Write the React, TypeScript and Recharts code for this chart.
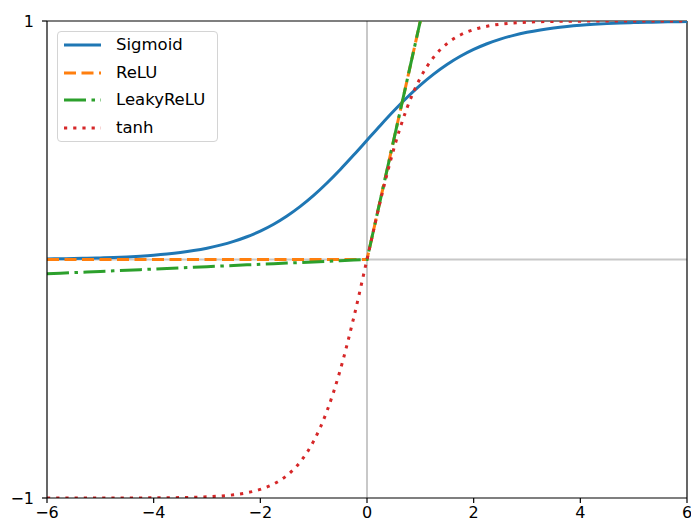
import React from "react";
import { LineChart, Line, XAxis, YAxis, ReferenceLine } from "recharts";

const xs = [
  -6, -5.75, -5.5, -5.25, -5, -4.75, -4.5, -4.25, -4, -3.75, -3.5, -3.25, -3, -2.75, -2.5, -2.25,
  -2, -1.75, -1.5, -1.25, -1, -0.75, -0.5, -0.25, 0, 0.25, 0.5, 0.75, 1, 1.25, 1.5, 1.75, 2, 2.25,
  2.5, 2.75, 3, 3.25, 3.5, 3.75, 4, 4.25, 4.5, 4.75, 5, 5.25, 5.5, 5.75, 6,
];

const sigmoid = [
  0.0025, 0.0032, 0.0041, 0.0052, 0.0067, 0.0086, 0.011, 0.0141, 0.018, 0.023, 0.0293, 0.0373,
  0.0474, 0.0601, 0.0759, 0.0953, 0.1192, 0.148, 0.1824, 0.2227, 0.2689, 0.3208, 0.3775, 0.4378,
  0.5, 0.5622, 0.6225, 0.6792, 0.7311, 0.7773, 0.8176, 0.852, 0.8808, 0.9047, 0.9241, 0.9399,
  0.9526, 0.9627, 0.9707, 0.977, 0.982, 0.9859, 0.989, 0.9914, 0.9933, 0.9948, 0.9959, 0.9968,
  0.9975,
];

const relu = [
  0, 0, 0, 0, 0, 0, 0, 0, 0, 0, 0, 0, 0, 0, 0, 0, 0, 0, 0, 0, 0, 0, 0, 0, 0, 0.25, 0.5, 0.75, 1,
  1.25, 1.5, 1.75, 2, 2.25, 2.5, 2.75, 3, 3.25, 3.5, 3.75, 4, 4.25, 4.5, 4.75, 5, 5.25, 5.5, 5.75, 6,
];

const leakyRelu = [
  -0.06, -0.0575, -0.055, -0.0525, -0.05, -0.0475, -0.045, -0.0425, -0.04, -0.0375, -0.035,
  -0.0325, -0.03, -0.0275, -0.025, -0.0225, -0.02, -0.0175, -0.015, -0.0125, -0.01, -0.0075,
  -0.005, -0.0025, 0, 0.25, 0.5, 0.75, 1, 1.25, 1.5, 1.75, 2, 2.25, 2.5, 2.75, 3, 3.25, 3.5, 3.75,
  4, 4.25, 4.5, 4.75, 5, 5.25, 5.5, 5.75, 6,
];

const tanh = [
  -0.99999, -0.99998, -0.99997, -0.99995, -0.99991, -0.99985, -0.99975, -0.99959, -0.99933,
  -0.99889, -0.99818, -0.997, -0.99505, -0.99186, -0.98661, -0.97803, -0.96403, -0.94138,
  -0.90515, -0.84828, -0.76159, -0.63515, -0.46212, -0.24492, 0, 0.24492, 0.46212, 0.63515,
  0.76159, 0.84828, 0.90515, 0.94138, 0.96403, 0.97803, 0.98661, 0.99186, 0.99505, 0.997,
  0.99818, 0.99889, 0.99933, 0.99959, 0.99975, 0.99985, 0.99991, 0.99995, 0.99997, 0.99998,
  0.99999,
];

const xTicks = [-6, -4, -2, 0, 2, 4, 6];
const yTicks = [-1, 1];

const series = [
  { key: "sigmoid", name: "Sigmoid", color: "#1f77b4", dash: undefined as string | undefined, type: "monotone" },
  { key: "relu", name: "ReLU", color: "#ff7f0e", dash: "12 5.5", type: "linear" },
  { key: "leaky", name: "LeakyReLU", color: "#2ca02c", dash: "22 5.5 3.5 5.5", type: "linear" },
  { key: "tanh", name: "tanh", color: "#d62728", dash: "3.2 6", type: "monotone" },
];

const data = xs.map((x, i) => ({
  x,
  sigmoid: sigmoid[i],
  relu: relu[i],
  leaky: leakyRelu[i],
  tanh: tanh[i],
}));

const font = "'DejaVu Sans', sans-serif";
const fmt = (v: number) => String(v).replace("-", "\u2212");

function LegendBox() {
  return (
    <div
      style={{
        position: "absolute",
        left: 57,
        top: 31,
        width: 159,
        height: 109,
        border: "1px solid #d4d4d4",
        borderRadius: 4,
        background: "rgba(255,255,255,0.8)",
        fontFamily: font,
        fontSize: 16.5,
        color: "#000",
      }}
    >
      {series.map((s, i) => (
        <div
          key={s.key}
          style={{ position: "absolute", left: 0, top: 1 + i * 27.5, height: 24, display: "flex", alignItems: "center" }}
        >
          <svg width={50} height={24} style={{ display: "block" }}>
            <line x1={6} x2={43} y1={12} y2={12} stroke={s.color} strokeWidth={3} strokeDasharray={s.dash} />
          </svg>
          <span style={{ marginLeft: 8, lineHeight: "24px" }}>{s.name}</span>
        </div>
      ))}
    </div>
  );
}

export default function App() {
  return (
    <div style={{ position: "absolute", left: 0, top: 0, width: 691, height: 525, background: "#fff" }}>
      <LineChart width={691} height={525} data={data} margin={{ top: 21, right: 4, bottom: 0, left: 0 }}>
        <XAxis
          dataKey="x"
          type="number"
          domain={[-6, 6]}
          ticks={xTicks}
          tickFormatter={fmt}
          height={27}
          tickSize={5}
          tickMargin={4}
          axisLine={{ stroke: "#000", strokeWidth: 1.2 }}
          tickLine={{ stroke: "#000", strokeWidth: 1.2 }}
          tick={{ fill: "#000", fontSize: 16, fontFamily: font }}
          allowDataOverflow
        />
        <YAxis
          type="number"
          domain={[-1, 1]}
          ticks={yTicks}
          tickFormatter={fmt}
          width={47}
          tickSize={5}
          tickMargin={8}
          axisLine={{ stroke: "#000", strokeWidth: 1.2 }}
          tickLine={{ stroke: "#000", strokeWidth: 1.2 }}
          tick={{ fill: "#000", fontSize: 16, fontFamily: font }}
          allowDataOverflow
        />
        <ReferenceLine x={0} stroke="#c8c8c8" strokeWidth={2} />
        <ReferenceLine y={0} stroke="#c8c8c8" strokeWidth={2} />
        <ReferenceLine y={1} stroke="#000" strokeWidth={1.2} />
        <ReferenceLine x={6} stroke="#000" strokeWidth={1.2} />
        {series.map((s) => (
          <Line
            key={s.key}
            dataKey={s.key}
            name={s.name}
            type={s.type as any}
            stroke={s.color}
            strokeWidth={3}
            strokeDasharray={s.dash}
            dot={false}
            activeDot={false}
            isAnimationActive={false}
          />
        ))}
      </LineChart>
      <LegendBox />
    </div>
  );
}
